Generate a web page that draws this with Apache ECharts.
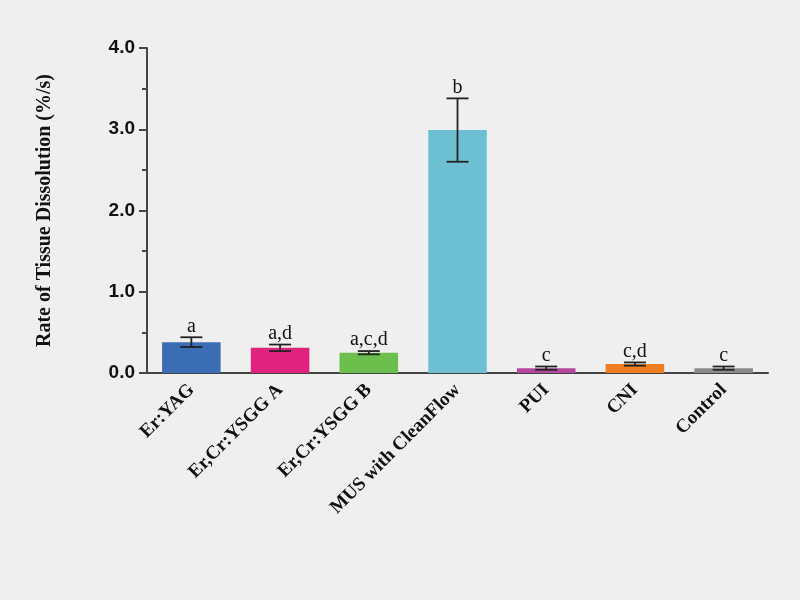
<!DOCTYPE html>
<html>
<head>
<meta charset="utf-8">
<script src="https://cdn.jsdelivr.net/npm/echarts@6/dist/echarts.min.js"></script>
<style>
  html, body { margin: 0; background: #efefef; }
  #chart { width: 800px; height: 600px; }
</style>
</head>
<body>
<div id="chart"></div>
<script>
const categories = ['Er:YAG', 'Er,Cr:YSGG A', 'Er,Cr:YSGG B', 'MUS with CleanFlow', 'PUI', 'CNI', 'Control'];
const means = [0.38, 0.31, 0.25, 2.99, 0.06, 0.11, 0.06];
const errors = [0.06, 0.04, 0.02, 0.39, 0.02, 0.02, 0.02];
const letters = ['a', 'a,d', 'a,c,d', 'b', 'c', 'c,d', 'c'];
const colors = ['#3b6db4', '#e0237e', '#6cbf4c', '#6cc0d1', '#b4479e', '#f07f24', '#8c8c8c'];

const chart = echarts.init(document.getElementById('chart'));

chart.setOption({
  backgroundColor: '#efefef',
  animation: false,
  grid: { left: 147, right: 32, top: 48, bottom: 227 },
  xAxis: {
    type: 'category',
    data: categories,
    axisLine: { lineStyle: { color: '#444', width: 2 } },
    axisTick: { alignWithLabel: true, length: 7, lineStyle: { color: '#444', width: 2 } },
    axisLabel: {
      rotate: 45, margin: 14, color: '#111', fontSize: 19, fontWeight: 'bold',
      fontFamily: 'Liberation Serif'
    }
  },
  yAxis: {
    type: 'value', min: 0, max: 4, interval: 1,
    name: 'Rate of Tissue Dissolution (%/s)',
    nameLocation: 'middle', nameGap: 92,
    nameTextStyle: { color: '#111', fontSize: 20, fontWeight: 'bold', fontFamily: 'Liberation Serif' },
    axisLine: { show: true, lineStyle: { color: '#444', width: 2 } },
    axisTick: { show: true, length: 8, lineStyle: { color: '#444', width: 2 } },
    minorTick: { show: true, splitNumber: 2, length: 5, lineStyle: { color: '#444', width: 2 } },
    splitLine: { show: false },
    axisLabel: {
      color: '#111', fontSize: 19, fontWeight: 'bold', fontFamily: 'Liberation Sans', margin: 12,
      formatter: v => v.toFixed(1)
    }
  },
  series: [
    {
      type: 'bar',
      barWidth: '66%',
      data: means.map((v, i) => ({ value: v, itemStyle: { color: colors[i] } }))
    },
    {
      type: 'custom',
      data: means.map((v, i) => [i, v, errors[i], letters[i]]),
      z: 10,
      renderItem(params, api) {
        const x = api.value(0);
        const hi = api.coord([x, api.value(1) + api.value(2)]);
        const lo = api.coord([x, api.value(1) - api.value(2)]);
        const w = 11;
        const style = { stroke: '#222', lineWidth: 1.8 };
        return {
          type: 'group',
          children: [
            { type: 'line', shape: { x1: hi[0], y1: hi[1], x2: lo[0], y2: lo[1] }, style },
            { type: 'line', shape: { x1: hi[0] - w, y1: hi[1], x2: hi[0] + w, y2: hi[1] }, style },
            { type: 'line', shape: { x1: lo[0] - w, y1: lo[1], x2: lo[0] + w, y2: lo[1] }, style },
            {
              type: 'text',
              style: {
                x: hi[0], y: hi[1] - 1, text: letters[params.dataIndex],
                align: 'center', verticalAlign: 'bottom',
                fill: '#111', fontSize: 20, fontFamily: 'Liberation Serif'
              }
            }
          ]
        };
      }
    }
  ]
});
</script>
</body>
</html>
